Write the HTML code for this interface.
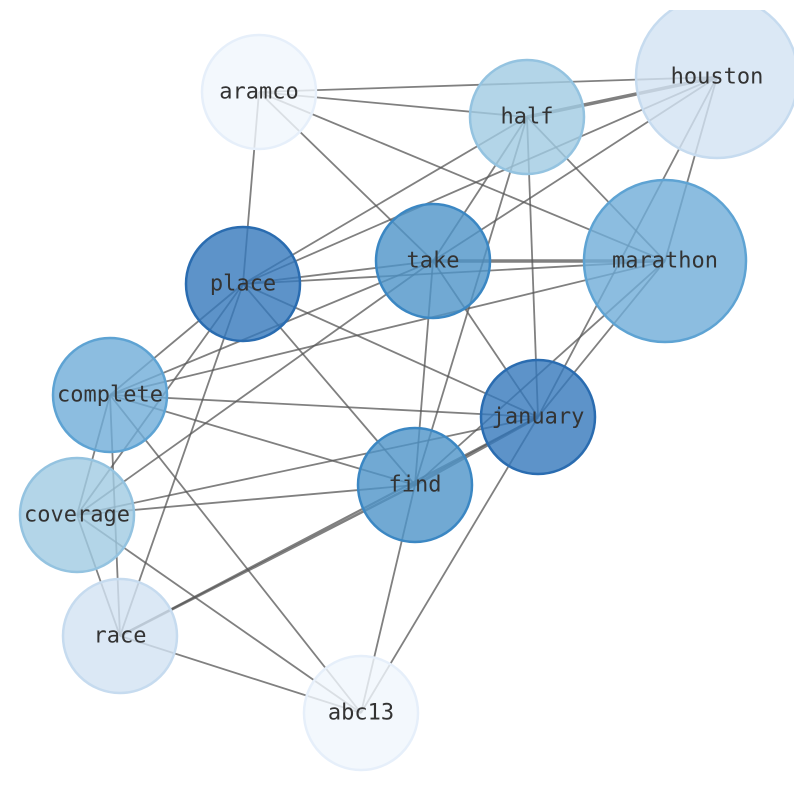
<!DOCTYPE html>
<html><head><style>html,body{margin:0;padding:0;background:#fff;}svg{display:block}</style></head>
<body>
<svg width="794" height="790" viewBox="0 0 794 790" xmlns="http://www.w3.org/2000/svg">
<defs><clipPath id="c"><rect x="0" y="10" width="794" height="780"/></clipPath></defs>
<g clip-path="url(#c)">
<g stroke="#555" stroke-opacity="0.75" stroke-width="1.8" fill="none">
<line x1="259" y1="92" x2="717" y2="77"/>
<line x1="259" y1="92" x2="527" y2="117"/>
<line x1="259" y1="92" x2="665" y2="261"/>
<line x1="259" y1="92" x2="433" y2="261"/>
<line x1="259" y1="92" x2="243" y2="284"/>
<line x1="717" y1="77" x2="527" y2="117" stroke-width="3.5"/>
<line x1="717" y1="77" x2="433" y2="261"/>
<line x1="717" y1="77" x2="243" y2="284"/>
<line x1="717" y1="77" x2="665" y2="261"/>
<line x1="717" y1="77" x2="538" y2="417"/>
<line x1="527" y1="117" x2="433" y2="261"/>
<line x1="527" y1="117" x2="415" y2="485"/>
<line x1="527" y1="117" x2="538" y2="417"/>
<line x1="527" y1="117" x2="665" y2="261"/>
<line x1="527" y1="117" x2="243" y2="284"/>
<line x1="433" y1="261" x2="665" y2="261" stroke-width="3.5"/>
<line x1="433" y1="261" x2="243" y2="284"/>
<line x1="433" y1="261" x2="110" y2="395"/>
<line x1="433" y1="261" x2="77" y2="515"/>
<line x1="433" y1="261" x2="538" y2="417"/>
<line x1="433" y1="261" x2="415" y2="485"/>
<line x1="665" y1="261" x2="243" y2="284"/>
<line x1="665" y1="261" x2="110" y2="395"/>
<line x1="665" y1="261" x2="538" y2="417"/>
<line x1="665" y1="261" x2="415" y2="485"/>
<line x1="243" y1="284" x2="110" y2="395"/>
<line x1="243" y1="284" x2="77" y2="515"/>
<line x1="243" y1="284" x2="120" y2="636"/>
<line x1="243" y1="284" x2="415" y2="485"/>
<line x1="243" y1="284" x2="538" y2="417"/>
<line x1="110" y1="395" x2="538" y2="417"/>
<line x1="110" y1="395" x2="415" y2="485"/>
<line x1="110" y1="395" x2="77" y2="515"/>
<line x1="110" y1="395" x2="120" y2="636"/>
<line x1="110" y1="395" x2="361" y2="713"/>
<line x1="538" y1="417" x2="415" y2="485" stroke-width="3.2"/>
<line x1="538" y1="417" x2="77" y2="515"/>
<line x1="538" y1="417" x2="361" y2="713"/>
<line x1="538" y1="417" x2="120" y2="636" stroke-width="2.2"/>
<line x1="415" y1="485" x2="77" y2="515"/>
<line x1="415" y1="485" x2="120" y2="636" stroke-width="2.5"/>
<line x1="415" y1="485" x2="361" y2="713"/>
<line x1="77" y1="515" x2="120" y2="636"/>
<line x1="77" y1="515" x2="361" y2="713"/>
<line x1="120" y1="636" x2="361" y2="713"/>
</g>
<g stroke-width="2.5">
<circle cx="259" cy="92" r="57" fill="#f0f6fd" stroke="#e6effa" fill-opacity="0.8"/>
<circle cx="717" cy="77" r="81" fill="#d2e2f2" stroke="#c6dbef" fill-opacity="0.8"/>
<circle cx="527" cy="117" r="57" fill="#a0cae2" stroke="#94c3e0" fill-opacity="0.8"/>
<circle cx="665" cy="261" r="81" fill="#6fadd8" stroke="#5ea3d3" fill-opacity="0.8"/>
<circle cx="433" cy="261" r="57" fill="#4e93c8" stroke="#3b87c3" fill-opacity="0.8"/>
<circle cx="243" cy="284" r="57" fill="#3478bb" stroke="#2a6cb0" fill-opacity="0.8"/>
<circle cx="110" cy="395" r="57" fill="#6fadd8" stroke="#5ea3d3" fill-opacity="0.8"/>
<circle cx="538" cy="417" r="57" fill="#3478bb" stroke="#2a6cb0" fill-opacity="0.8"/>
<circle cx="415" cy="485" r="57" fill="#4e93c8" stroke="#3b87c3" fill-opacity="0.8"/>
<circle cx="77" cy="515" r="57" fill="#a0cae2" stroke="#94c3e0" fill-opacity="0.8"/>
<circle cx="120" cy="636" r="57" fill="#d2e2f2" stroke="#c6dbef" fill-opacity="0.8"/>
<circle cx="361" cy="713" r="57" fill="#f0f6fd" stroke="#e6effa" fill-opacity="0.8"/>
</g>
<g font-family="'DejaVu Sans Mono','Liberation Mono',monospace" font-size="22" fill="#333" text-anchor="middle" dominant-baseline="central">
<text x="259" y="92">aramco</text>
<text x="717" y="77">houston</text>
<text x="527" y="117">half</text>
<text x="665" y="261">marathon</text>
<text x="433" y="261">take</text>
<text x="243" y="284">place</text>
<text x="110" y="395">complete</text>
<text x="538" y="417">january</text>
<text x="415" y="485">find</text>
<text x="77" y="515">coverage</text>
<text x="120" y="636">race</text>
<text x="361" y="713">abc13</text>
</g>
</g>
</svg>
</body></html>
